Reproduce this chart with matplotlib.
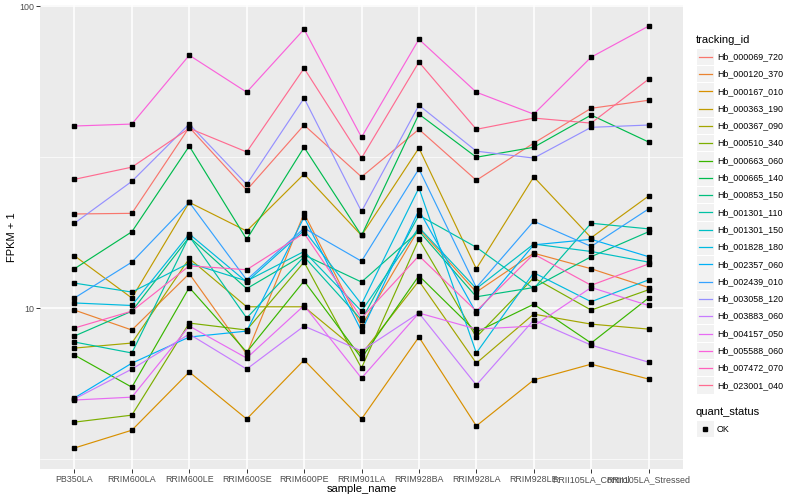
import numpy as np
import matplotlib
matplotlib.use('Agg')
import matplotlib.pyplot as plt
from matplotlib.patches import Rectangle
from matplotlib.lines import Line2D
from matplotlib.ticker import FixedLocator, NullFormatter

plt.rcParams['font.family'] = ['Liberation Sans', 'DejaVu Sans']

samples = ['PB350LA', 'RRIM600LA', 'RRIM600LE', 'RRIM600SE', 'RRIM600PE', 'RRIM901LA',
           'RRIM928BA', 'RRIM928LA', 'RRIM928LE', 'RRII105LA_Control', 'RRII105LA_Stressed']

# FPKM + 1 per tracking id, one value per sample
hb_000069_720 = [20.5, 20.6, 39.7, 24.6, 40.4, 27.2, 39.1, 26.5, 35.2, 45.9, 48.8]
hb_000120_370 = [9.85, 8.46, 13.0, 7.04, 20.6, 8.72, 18.3, 11.3, 15.2, 13.5, 11.7]
hb_000167_010 = [3.44, 3.94, 6.14, 4.29, 6.73, 4.29, 8.02, 4.07, 5.78, 6.52, 5.82]
hb_000363_190 = [14.9, 10.8, 22.4, 18.0, 27.8, 17.4, 33.9, 13.5, 27.2, 17.1, 23.5]
hb_000367_090 = [7.37, 7.66, 14.6, 10.1, 10.1, 7.04, 12.3, 6.57, 9.55, 8.85, 8.52]
hb_000510_340 = [4.19, 4.42, 8.92, 8.46, 14.2, 6.33, 16.9, 8.02, 12.6, 9.85, 11.5]
hb_000663_060 = [6.99, 5.47, 11.7, 7.15, 12.3, 6.83, 12.8, 8.33, 10.3, 7.66, 10.8]
hb_000665_140 = [13.5, 17.9, 34.4, 16.9, 34.1, 17.4, 43.9, 31.6, 34.1, 43.6, 35.5]
hb_000853_150 = [8.08, 9.77, 17.2, 11.6, 15.0, 12.2, 18.0, 10.9, 11.7, 14.8, 17.9]
hb_001301_110 = [7.72, 7.10, 17.3, 9.27, 14.8, 9.13, 20.3, 15.9, 11.6, 19.1, 18.3]
hb_001301_150 = [12.1, 11.3, 14.1, 12.3, 15.4, 9.77, 18.5, 11.6, 16.3, 15.4, 14.2]
hb_001828_180 = [10.4, 10.2, 17.6, 12.2, 18.1, 10.3, 25.0, 7.10, 13.1, 10.5, 12.4]
hb_002357_060 = [5.04, 6.57, 8.02, 8.39, 20.0, 8.39, 21.1, 9.63, 16.2, 16.9, 14.8]
hb_002439_010 = [10.8, 14.2, 22.4, 12.4, 18.4, 14.3, 28.9, 11.7, 19.4, 16.0, 21.3]
hb_003058_120 = [19.1, 26.3, 40.7, 25.7, 49.6, 20.9, 47.0, 33.1, 31.4, 39.7, 40.4]
hb_003883_060 = [5.00, 6.28, 8.20, 6.28, 8.72, 7.21, 9.63, 5.56, 9.13, 7.54, 6.62]
hb_004157_050 = [4.96, 5.07, 8.72, 6.83, 10.2, 5.86, 9.63, 8.52, 8.72, 11.7, 10.2]
hb_005588_060 = [40.1, 40.7, 68.8, 51.9, 83.9, 36.8, 77.7, 51.9, 43.9, 67.8, 85.9]
hb_007472_070 = [8.59, 9.77, 13.8, 13.4, 17.7, 9.27, 14.9, 9.77, 15.1, 11.9, 14.0]
hb_023001_040 = [26.7, 29.3, 39.4, 32.9, 62.3, 31.4, 65.3, 39.1, 42.6, 41.0, 57.3]

tracking_ids = ['Hb_000069_720', 'Hb_000120_370', 'Hb_000167_010', 'Hb_000363_190',
                'Hb_000367_090', 'Hb_000510_340', 'Hb_000663_060', 'Hb_000665_140',
                'Hb_000853_150', 'Hb_001301_110', 'Hb_001301_150', 'Hb_001828_180',
                'Hb_002357_060', 'Hb_002439_010', 'Hb_003058_120', 'Hb_003883_060',
                'Hb_004157_050', 'Hb_005588_060', 'Hb_007472_070', 'Hb_023001_040']
series = [hb_000069_720, hb_000120_370, hb_000167_010, hb_000363_190, hb_000367_090,
          hb_000510_340, hb_000663_060, hb_000665_140, hb_000853_150, hb_001301_110,
          hb_001301_150, hb_001828_180, hb_002357_060, hb_002439_010, hb_003058_120,
          hb_003883_060, hb_004157_050, hb_005588_060, hb_007472_070, hb_023001_040]

# ggplot2 default hue palette, 20 levels
colors = ['#F8766D', '#EA8331', '#D89000', '#C09B00', '#A3A500', '#7CAE00', '#39B600',
          '#00BB4E', '#00BF7D', '#00C1A3', '#00BFC4', '#00BAE0', '#00B0F6', '#35A2FF',
          '#9590FF', '#C77CFF', '#E76BF3', '#FA62DB', '#FF62BC', '#FF6C91']

W, H = 800, 500
fig = plt.figure(figsize=(8, 5), dpi=100)
ax = fig.add_axes([40 / W, 1 - 469 / H, (683 - 40) / W, (469 - 5) / H])
ax.set_facecolor('#EBEBEB')
for s in ax.spines.values():
    s.set_visible(False)

x = np.arange(len(samples))
for vals, col in zip(series, colors):
    ax.plot(x, vals, color=col, lw=0.85, zorder=2)
for vals in series:
    ax.plot(x, vals, ls='none', marker='s', ms=2.5, color='black', zorder=3)

ax.set_yscale('log')
ax.set_ylim(10 ** 0.467, 10 ** 2.004)
ax.set_xlim(-0.6, len(samples) - 0.4)
ax.yaxis.set_major_locator(FixedLocator([10, 100]))
ax.set_yticklabels(['10', '100'])
ax.yaxis.set_minor_locator(FixedLocator([10 ** 0.5, 10 ** 1.5]))
ax.yaxis.set_minor_formatter(NullFormatter())
ax.set_xticks(x)
ax.set_xticklabels(samples)
ax.set_axisbelow(True)
ax.grid(which='major', color='white', lw=1.1)
ax.grid(which='minor', axis='y', color='white', lw=0.5)
ax.tick_params(which='major', length=3, width=0.7, color='#333333',
               labelsize=6.4, labelcolor='#4D4D4D', pad=1.2)
ax.tick_params(which='minor', length=0)

fig.text(361.5 / W, 1 - 489 / H, 'sample_name', ha='center', va='center', fontsize=8)
fig.text(12 / W, 1 - 237 / H, 'FPKM + 1', ha='center', va='center', rotation=90, fontsize=8)

# legends, drawn ggplot-style
def px(xp, yp):
    return xp / W, 1 - yp / H

fig.text(*px(696, 40), 'tracking_id', ha='left', va='center', fontsize=8)
for i, (name, col) in enumerate(zip(tracking_ids, colors)):
    yc = 56.7 + i * 17.3
    fig.add_artist(Rectangle(px(697, yc + 8.2), 16.5 / W, 16.4 / H,
                             transform=fig.transFigure, facecolor='#F2F2F2', edgecolor='none'))
    fig.add_artist(Line2D([698.5 / W, 712 / W], [1 - yc / H] * 2, color=col, lw=0.9,
                          transform=fig.transFigure))
    fig.text(*px(717, yc), name, ha='left', va='center', fontsize=6.4)

fig.text(*px(696, 412), 'quant_status', ha='left', va='center', fontsize=8)
fig.add_artist(Rectangle(px(697, 429 + 8.2), 16.5 / W, 16.4 / H,
                         transform=fig.transFigure, facecolor='#F2F2F2', edgecolor='none'))
fig.add_artist(Line2D([705.2 / W], [1 - 429 / H], ls='none', marker='s', ms=2.5,
                      color='black', transform=fig.transFigure))
fig.text(*px(717, 429), 'OK', ha='left', va='center', fontsize=6.4)

fig.savefig('out.png', dpi=100)
